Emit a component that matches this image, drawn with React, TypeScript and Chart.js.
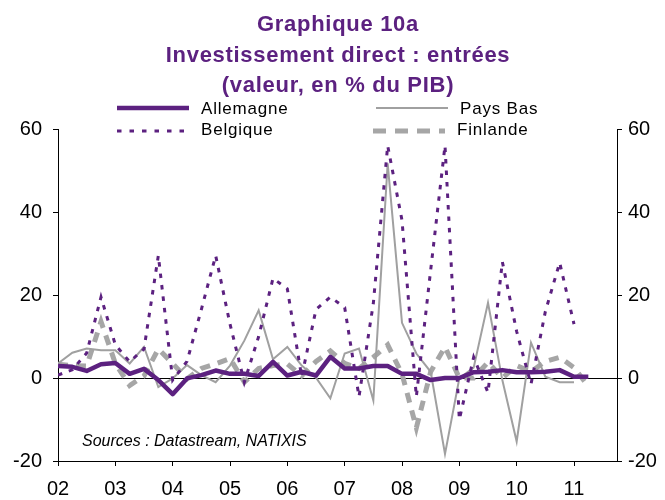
import React, { useEffect, useRef } from 'react';
import { Chart, registerables } from 'chart.js';

Chart.register(...registerables);

const YEAR_LABELS = ['02', '03', '04', '05', '06', '07', '08', '09', '10', '11'];
const Y_TICKS = [-20, 0, 20, 40, 60];
const TITLE_LINES = ['Graphique 10a', 'Investissement direct : entrées', '(valeur, en % du PIB)'];
const SOURCE_TEXT = 'Sources : Datastream, NATIXIS';

// Quarterly values, 2002 T1 ... 2011 T2
const ALLEMAGNE = [2.9, 2.7, 1.7, 3.3, 3.6, 1.0, 2.2, -0.5, -3.9, -0.1, 0.7, 1.8, 1.0, 1.0, 0.5, 3.9, 0.6, 1.5, 0.6, 5.1, 2.3, 2.3, 2.9, 2.9, 1.0, 1.0, -0.5, 0.0, 0.0, 1.4, 1.5, 1.9, 1.4, 1.4, 1.5, 1.9, 0.3, 0.3];
const BELGIQUE = [0.7, 2.0, 6.0, 19.5, 8.0, 3.9, 7.0, 29.5, -0.5, 4.0, 16.5, 29.5, 13.0, -1.0, 10.0, 24.0, 21.5, 0.3, 16.5, 19.5, 17.0, -4.5, 18.0, 56.0, 38.0, -4.5, 26.0, 56.0, -10.0, 5.0, -3.5, 28.0, 11.2, -1.5, 16.0, 27.8, 13.0, null];
const PAYS_BAS = [3.5, 6.1, 7.1, 6.7, 6.7, 3.5, 7.5, -2.2, -0.1, 3.1, 0.7, -1.0, 3.0, 9.0, 16.3, 4.5, 7.5, 3.0, 0.1, -4.9, 5.9, 7.1, -5.4, 51.7, 13.3, 5.9, 1.5, -18.3, -0.1, 2.5, 18.1, -0.5, -15.3, 8.5, 0.3, -1.0, -1.0, null];
const FINLANDE = [3.3, 3.0, 2.9, 13.6, 3.5, -1.8, 0.5, 7.0, 3.5, -0.2, 2.3, 3.4, 4.7, -1.0, 2.3, 3.0, 3.4, 0.5, 4.0, 6.5, 3.5, 2.3, 5.0, 8.0, 1.0, -12.0, 1.5, 7.5, 0.0, 0.0, 3.8, 0.0, 3.0, 1.5, 4.0, 5.0, 2.5, -2.0];

const PURPLE = '#5C2180';
const GRAY_THIN = '#A0A0A0';
const GRAY_THICK = '#A6A6A6';
const FAMILY = "'Liberation Sans', Arial, sans-serif";

const toPoints = (arr: (number | null)[]) => arr.map((v, i) => ({ x: i, y: v }));

const overlayPlugin = {
  id: 'overlay',
  afterDraw(chart: any) {
    const ctx = chart.ctx as any;
    ctx.save();
    // Title
    ctx.fillStyle = PURPLE;
    ctx.font = `bold 22px ${FAMILY}`;
    ctx.letterSpacing = '0.7px';
    ctx.textAlign = 'center';
    ctx.textBaseline = 'alphabetic';
    const baselines = [31, 62, 92];
    TITLE_LINES.forEach((t, i) => ctx.fillText(t, 338, baselines[i]));

    // Legend
    const items = [
      { label: 'Allemagne', x: 117, y: 108, base: 114, color: PURPLE, width: 4.5, dash: [] as number[] },
      { label: 'Pays Bas', x: 376, y: 108, base: 114, color: GRAY_THIN, width: 2, dash: [] as number[] },
      { label: 'Belgique', x: 117, y: 131, base: 134.5, color: PURPLE, width: 3, dash: [4.5, 8] },
      { label: 'Finlande', x: 373, y: 131, base: 134.5, color: GRAY_THICK, width: 5, dash: [13, 9] },
    ];
    items.forEach((it) => {
      ctx.beginPath();
      ctx.setLineDash(it.dash);
      ctx.strokeStyle = it.color;
      ctx.lineWidth = it.width;
      ctx.moveTo(it.x, it.y);
      ctx.lineTo(it.x + 72, it.y);
      ctx.stroke();
      ctx.setLineDash([]);
      ctx.fillStyle = '#000';
      ctx.font = `17px ${FAMILY}`;
      ctx.letterSpacing = '0.8px';
      ctx.textAlign = 'left';
      ctx.textBaseline = 'alphabetic';
      ctx.fillText(it.label, it.x + 84, it.base);
    });

    // Source note
    ctx.letterSpacing = '0px';
    ctx.fillStyle = '#000';
    ctx.font = `italic 16px ${FAMILY}`;
    ctx.textAlign = 'left';
    ctx.textBaseline = 'middle';
    ctx.fillText(SOURCE_TEXT, 82, 442);
    ctx.restore();
  },
};

export default function App() {
  const canvasRef = useRef<HTMLCanvasElement | null>(null);

  useEffect(() => {
    document.body.style.margin = '0';
    const canvas = canvasRef.current;
    if (!canvas) return;
    const tickFont = { size: 20, family: FAMILY };
    const chart = new Chart(canvas, {
      type: 'line',
      data: {
        datasets: [
          { label: 'Allemagne', data: toPoints(ALLEMAGNE), borderColor: PURPLE, borderWidth: 4.5, pointRadius: 0, borderJoinStyle: 'round', order: 0, yAxisID: 'y' },
          { label: 'Belgique', data: toPoints(BELGIQUE), borderColor: PURPLE, borderWidth: 3, borderDash: [4.5, 7], pointRadius: 0, order: 1, yAxisID: 'y' },
          { label: 'Pays Bas', data: toPoints(PAYS_BAS), borderColor: GRAY_THIN, borderWidth: 2, pointRadius: 0, order: 2, yAxisID: 'y' },
          { label: 'Finlande', data: toPoints(FINLANDE), borderColor: GRAY_THICK, borderWidth: 5, borderDash: [10, 8], pointRadius: 0, order: 3, yAxisID: 'y' },
        ] as any,
      },
      options: {
        animation: false,
        responsive: false,
        devicePixelRatio: 1,
        layout: { padding: { top: 129, left: 0, right: 0, bottom: 0 } },
        plugins: { legend: { display: false }, title: { display: false }, tooltip: { enabled: false } },
        scales: {
          x: {
            type: 'linear',
            min: 0,
            max: 39,
            afterBuildTicks: (s: any) => {
              s.ticks = YEAR_LABELS.map((_, k) => ({ value: k * 4 }));
            },
            afterFit: (s: any) => { s.height = 39; },
            ticks: {
              autoSkip: false,
              maxRotation: 0,
              padding: 11,
              color: '#000',
              font: tickFont,
              callback: (v: any) => YEAR_LABELS[Math.round(Number(v) / 4)] ?? '',
            },
            grid: { drawOnChartArea: false, drawTicks: true, tickLength: 5, tickColor: '#000' },
            border: { display: true, color: '#000', width: 1 },
          },
          y: {
            type: 'linear',
            position: 'left',
            min: -20,
            max: 60,
            afterBuildTicks: (s: any) => { s.ticks = Y_TICKS.map((v) => ({ value: v })); },
            afterFit: (s: any) => { s.width = 58; },
            ticks: { padding: 11, color: '#000', font: tickFont },
            grid: {
              drawTicks: true,
              tickLength: 5,
              tickColor: '#000',
              lineWidth: 1,
              color: (c: any) => (c.tick && c.tick.value === 0 ? '#000' : 'rgba(0,0,0,0)'),
            },
            border: { display: true, color: '#000', width: 1 },
          },
          y2: {
            type: 'linear',
            position: 'right',
            min: -20,
            max: 60,
            afterBuildTicks: (s: any) => { s.ticks = Y_TICKS.map((v) => ({ value: v })); },
            afterFit: (s: any) => { s.width = 48; },
            ticks: { padding: 6, color: '#000', font: tickFont },
            grid: { drawOnChartArea: false, drawTicks: true, tickLength: 5, tickColor: '#000' },
            border: { display: true, color: '#000', width: 1 },
          },
        },
      } as any,
      plugins: [overlayPlugin],
    });
    return () => chart.destroy();
  }, []);

  return (
    <div style={{ width: 665, height: 500, background: '#fff' }}>
      <canvas ref={canvasRef} width={665} height={500} />
    </div>
  );
}
